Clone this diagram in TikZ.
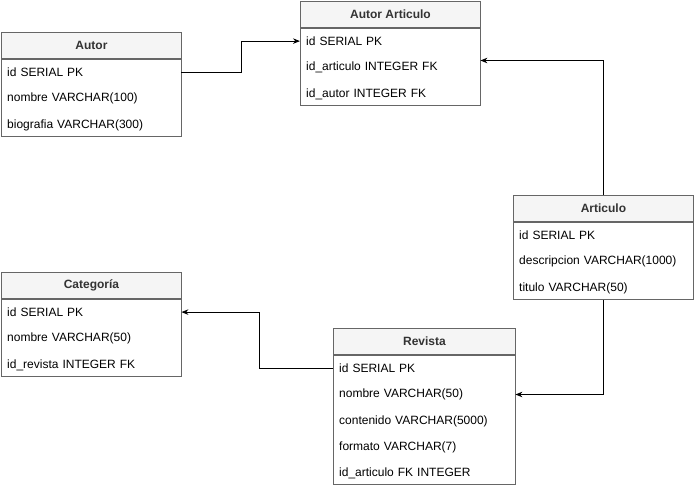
\documentclass[tikz,border=0pt]{standalone}
\usepackage{fontspec}
\setmainfont{Liberation Sans}
\usetikzlibrary{arrows.meta,positioning}
\definecolor{hdrfill}{HTML}{F5F5F5}
\definecolor{boxline}{HTML}{666666}
\definecolor{hdrtext}{HTML}{333333}
\begin{document}
\begin{tikzpicture}[x=1pt,y=1pt,
  font=\fontsize{12}{14}\selectfont,
  hdr/.style={draw=boxline,fill=hdrfill,line width=0.9pt,minimum height=26pt,inner sep=0pt,anchor=north west,font=\fontsize{12}{14}\selectfont\bfseries,text=hdrtext},
  tbody/.style={draw=boxline,line width=0.9pt,inner sep=0pt,anchor=north west,fill=white},
  row/.style={minimum height=26pt,inner xsep=6pt,inner ysep=0pt,align=left,anchor=north west,text=black},
  arr/.style={draw=black,line width=0.9pt,-{Stealth[length=7pt,width=5.5pt]}}]
\useasboundingbox (0,0) rectangle (694,-487);
% Autor
\node[hdr,minimum width=180pt] (autor) at (1,-32) {Autor};
\node[tbody,minimum width=180pt,minimum height=77pt] (autorb) at (autor.south west) {};
\node[row,text width=168pt] (autor-id) at (autor.south west) {id SERIAL PK};
\node[row,text width=168pt] (autor-nom) at (autor-id.south west) {nombre VARCHAR(100)};
\node[row,text width=168pt] (autor-bio) at (autor-nom.south west) {biografia VARCHAR(300)};
% Autor Articulo
\node[hdr,minimum width=180pt] (aa) at (300,-1) {Autor Articulo};
\node[tbody,minimum width=180pt,minimum height=77pt] (aab) at (aa.south west) {};
\node[row,text width=168pt] (aa-id) at (aa.south west) {id SERIAL PK};
\node[row,text width=168pt] (aa-art) at (aa-id.south west) {id\_articulo INTEGER FK};
\node[row,text width=168pt] (aa-aut) at (aa-art.south west) {id\_autor INTEGER FK};
% Articulo
\node[hdr,minimum width=180pt] (art) at (513,-195) {Articulo};
\node[tbody,minimum width=180pt,minimum height=77pt] (artb) at (art.south west) {};
\node[row,text width=168pt] (art-id) at (art.south west) {id SERIAL PK};
\node[row,text width=168pt] (art-desc) at (art-id.south west) {descripcion VARCHAR(1000)};
\node[row,text width=168pt] (art-tit) at (art-desc.south west) {titulo VARCHAR(50)};
% Categoria
\node[hdr,minimum width=180pt] (cat) at (1,-272) {Categoría};
\node[tbody,minimum width=180pt,minimum height=77pt] (catb) at (cat.south west) {};
\node[row,text width=168pt] (cat-id) at (cat.south west) {id SERIAL PK};
\node[row,text width=168pt] (cat-nom) at (cat-id.south west) {nombre VARCHAR(50)};
\node[row,text width=168pt] (cat-rev) at (cat-nom.south west) {id\_revista INTEGER FK};
% Revista
\node[hdr,minimum width=182pt] (rv) at (333,-328) {Revista};
\node[tbody,minimum width=182pt,minimum height=129pt] (rvb) at (rv.south west) {};
\node[row,text width=170pt] (rv-id) at (rv.south west) {id SERIAL PK};
\node[row,text width=170pt] (rv-nom) at (rv-id.south west) {nombre VARCHAR(50)};
\node[row,text width=170pt] (rv-con) at (rv-nom.south west) {contenido VARCHAR(5000)};
\node[row,text width=170pt] (rv-for) at (rv-con.south west) {formato VARCHAR(7)};
\node[row,text width=170pt] (rv-ida) at (rv-for.south west) {id\_articulo FK INTEGER};
% connectors
\draw[arr] (autor-id.east) -- ++(60,0) |- (aa-id.west);
\draw[arr] (art.north) |- ([yshift=7pt]aa-art.east);
\draw[arr] (artb.south) |- (rv-nom.east);
\draw[arr] (rv-id.west) -- ++(-74,0) |- (cat-id.east);
\end{tikzpicture}
\end{document}
